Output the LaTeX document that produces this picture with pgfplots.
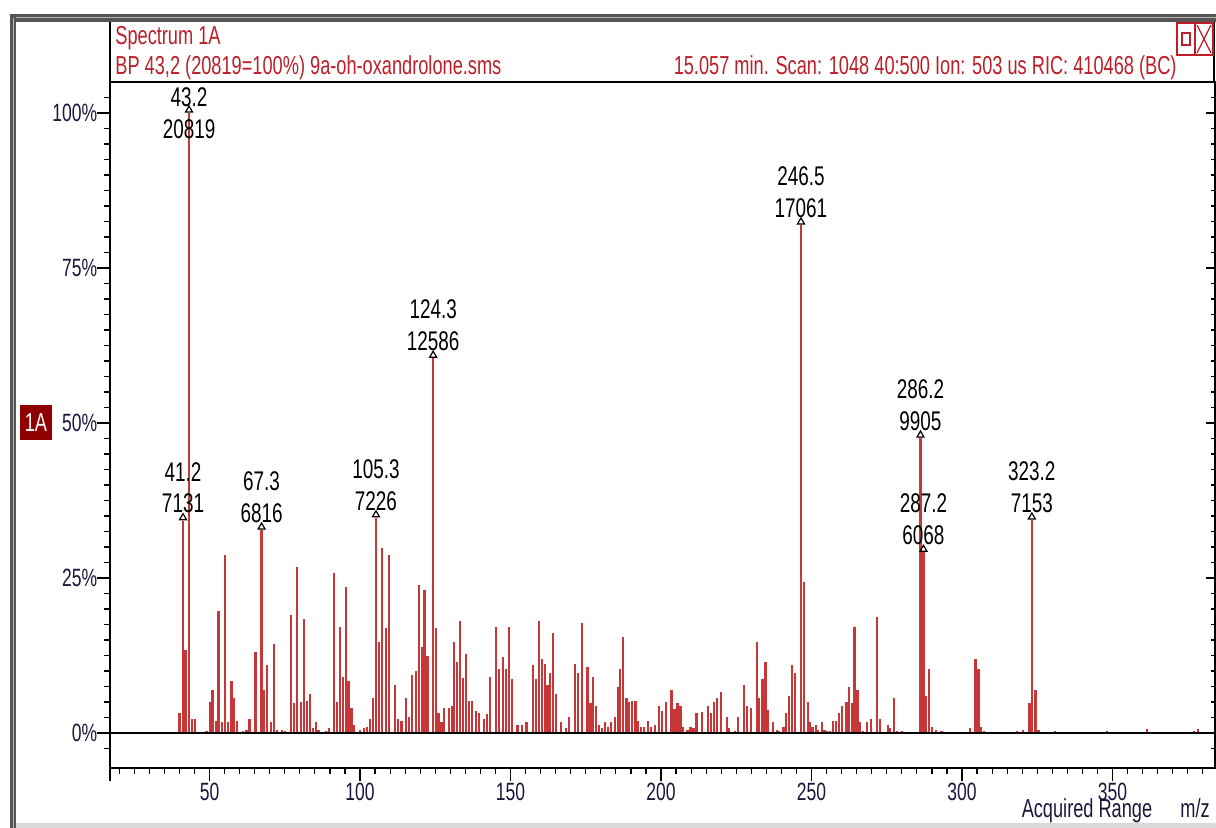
\documentclass[border=0pt]{standalone}
\usepackage{fontspec}
\setmainfont{Liberation Sans}[FakeStretch=0.7]
\usepackage{pgfplots}
\usepackage{pgfplotstable}
\pgfplotsset{compat=1.18}
\definecolor{specred}{RGB}{200,55,55}
\definecolor{hdrred}{RGB}{190,30,40}
\definecolor{ticknavy}{RGB}{25,25,60}
\definecolor{boxred}{RGB}{145,0,0}
\definecolor{framegray}{RGB}{85,85,85}
\newcommand\fhdr{\fontsize{13}{15}\selectfont}
\newcommand\ftick{\fontsize{12.5}{14}\selectfont}
\newcommand\fann{\fontsize{13.5}{15}\selectfont}

\pgfplotstableread{
mz h
40.0 3.3
41.2 34.25
42.0 13.4
43.2 100
44.3 2.3
45.3 2.3
49.0 0.3
50.2 5.0
51.0 6.9
52.2 2.0
53.0 19.6
54.2 1.7
55.2 28.7
56.2 1.7
57.3 8.4
58.2 5.6
59.2 2.0
61.0 0.3
62.3 0.5
63.3 2.3
65.3 13.1
67.3 32.74
68.1 6.9
69.2 11.0
70.3 1.7
71.3 14.4
72.4 0.5
74.0 0.5
75.0 0.3
77.1 19.0
78.1 4.8
79.1 26.7
80.4 5.0
81.3 18.4
82.4 5.2
83.3 6.3
84.3 0.8
85.3 1.7
86.2 0.5
86.9 0.2
88.7 0.3
89.6 0.8
91.3 25.8
92.3 5.0
93.3 17.1
94.3 9.1
95.3 23.6
96.2 8.4
97.2 4.1
98.1 1.3
100.0 0.5
101.4 0.8
102.3 1.0
103.3 2.3
104.3 5.7
105.3 34.71
106.2 14.6
107.2 29.9
108.6 16.9
109.5 28.7
111.6 7.8
112.5 2.3
113.8 2.0
115.3 5.7
116.2 2.6
117.2 9.4
118.5 10.0
119.5 23.9
120.5 13.8
121.4 23.0
122.4 12.5
124.3 60.45
125.2 16.9
126.1 3.2
127.1 1.7
128.0 4.0
129.6 4.0
130.5 4.4
131.3 14.6
132.3 11.5
133.3 18.1
134.2 8.8
135.2 12.8
136.2 5.2
137.1 5.2
138.5 3.5
139.4 3.2
141.3 2.2
142.3 3.0
143.3 9.1
145.2 17.1
146.2 10.3
147.6 12.2
148.5 10.3
149.5 17.1
150.5 8.7
152.3 1.3
153.8 1.3
155.3 1.7
157.4 11.0
158.4 8.7
159.4 18.1
160.4 11.9
161.4 11.2
162.3 7.8
163.2 9.7
164.2 16.2
165.1 6.3
166.9 1.7
168.4 0.8
169.4 2.6
171.3 11.2
172.3 9.7
173.8 17.7
175.6 10.6
176.6 4.8
177.5 9.1
178.5 4.4
179.4 1.3
180.4 0.8
181.4 1.7
182.4 1.0
183.4 1.7
184.6 2.6
185.6 7.5
186.5 10.3
187.5 15.5
188.5 5.7
189.4 5.0
190.4 5.2
191.5 5.2
192.4 2.0
193.3 1.0
194.3 1.0
195.6 2.0
196.6 1.0
198.0 1.3
199.3 4.4
200.3 3.5
201.7 5.0
203.5 6.9
204.5 3.8
205.5 4.8
206.5 4.4
207.4 1.0
208.8 0.5
209.8 1.0
210.8 0.8
211.8 3.2
213.7 3.4
215.5 4.4
216.5 3.2
217.5 5.0
218.5 5.7
219.8 6.6
221.8 2.6
222.7 0.8
224.6 0.3
225.6 2.6
227.5 7.8
228.5 4.4
229.8 4.0
231.8 14.6
232.6 5.7
233.7 8.7
234.7 11.5
235.6 3.7
237.1 1.7
238.4 0.5
239.3 0.3
240.7 1.0
241.6 3.2
242.6 5.9
243.5 11.0
244.5 9.7
246.5 81.95
247.4 24.3
248.7 5.0
249.4 1.7
250.3 1.0
251.5 1.3
252.0 0.5
253.5 1.7
254.3 0.5
255.2 0.3
256.1 0.3
257.2 2.0
258.1 2.0
259.1 3.2
260.1 4.4
261.6 5.0
262.5 7.5
263.5 4.8
264.3 17.1
265.3 6.9
266.2 1.7
267.1 0.3
268.3 1.7
269.7 2.3
271.7 18.7
272.7 2.3
275.3 1.3
276.2 0.8
277.4 5.7
278.3 0.3
280.0 0.3
286.2 47.58
287.2 29.15
288.0 5.9
289.0 10.3
290.0 1.0
291.3 0.5
293.2 0.3
302.7 0.8
304.5 11.9
305.5 10.3
306.3 1.0
307.2 0.3
318.3 0.3
320.2 0.5
322.4 4.8
323.2 34.36
324.4 6.9
325.4 0.5
330.8 0.3
348.1 0.3
361.4 0.6
377.2 0.3
378.5 0.6
}\spec

\begin{document}
\begin{tikzpicture}
\path[use as bounding box] (0pt,0pt) rectangle (608pt,-414pt);
\begin{scope}[x=0.5pt,y=-0.5pt]
\fill[white] (0,0) rectangle (1216,828);
% window frame
\fill[framegray] (10,14) rectangle (1216,22);
\draw[gray!55, line width=0.5pt] (14,18) -- (1216,18);
\fill[framegray] (10,14) rectangle (16,828);
\draw[gray!55, line width=0.5pt] (13,18) -- (13,828);
\fill[gray!30] (16,823) rectangle (1216,828);
% header box
\draw[black, line width=0.7pt] (110,22) -- (110,82);
\draw[black, line width=0.7pt] (1214,22) -- (1214,82);
\node[anchor=base west, text=hdrred, inner sep=0pt, font=\fhdr] at (115,45) {Spectrum 1A};
\node[anchor=base west, text=hdrred, inner sep=0pt, font=\fhdr] at (115,75) {BP 43,2 (20819=100\%) 9a-oh-oxandrolone.sms};
\node[anchor=base east, text=hdrred, inner sep=0pt, font=\fhdr] at (1177,75) {15.057 min. Scan: 1048 40:500 Ion: 503 us RIC: 410468 (BC)};
% window buttons
\draw[hdrred, line width=0.6pt] (1177,23) rectangle (1195,55);
\draw[hdrred, line width=0.6pt] (1195,23) rectangle (1213,55);
\draw[hdrred, line width=0.8pt] (1182,33) rectangle (1190,45);
\draw[hdrred, line width=0.6pt] (1197,25) -- (1211,53) (1211,25) -- (1197,53);
% 1A box
\fill[boxred] (20,405) rectangle (52,440);
\node[text=white, inner sep=0pt, font=\fhdr] at (36,423) {1A};
% bottom labels
\node[anchor=base, text=ticknavy, inner sep=0pt, font=\fhdr] at (1087,817) {Acquired Range};
\node[anchor=base, text=ticknavy, inner sep=0pt, font=\fhdr] at (1195,817) {m/z};
\end{scope}

% right axis ticks
\begin{axis}[
  at={(55pt,-384pt)}, anchor=south west,
  scale only axis, width=552.5pt, height=343pt,
  xmin=16.94, xmax=384.05, ymin=-5.645, ymax=105,
  axis line style={draw=none},
  xtick=\empty,
  ytick={0,25,50,75,100}, yticklabels={},
  minor ytick={-2.5,0,...,102.5},
  ytick pos=right, tick align=inside,
  major tick length=4.5pt, minor tick length=2pt,
  tick style={black, line width=0.6pt},
]
\end{axis}

\begin{axis}[
  at={(55pt,-384pt)}, anchor=south west,
  scale only axis, width=552.5pt, height=343pt,
  xmin=16.94, xmax=384.05, ymin=-5.645, ymax=105,
  axis line style={line width=0.7pt, black},
  xtick={50,100,...,350},
  minor xtick={20,25,...,380},
  extra x ticks={16.94}, extra x tick labels={},
  ytick={0,25,50,75,100},
  yticklabels={0\%,25\%,50\%,75\%,100\%},
  minor ytick={-2.5,0,...,102.5},
  xtick pos=bottom, ytick pos=left, tick align=outside,
  major tick length=6.25pt, minor tick length=2.75pt,
  tick style={black, line width=0.6pt},
  /pgf/number format/assume math mode=true,
  ticklabel style={font=\ftick, text=ticknavy},
  xticklabel style={inner sep=0pt, anchor=north, yshift=-1pt},
  yticklabel style={inner sep=0pt, anchor=east, xshift=0pt},
  clip=true,
]
\addplot[ycomb, specred, line width=1.1pt, mark=none] table {\spec};
\draw[black, line width=1pt] (axis cs:16.94,0) -- (axis cs:384.05,0);
\addplot[only marks, mark=triangle, mark size=2pt, black, mark options={line width=0.6pt, yshift=1.5pt}] coordinates {
(41.2,34.25) (43.2,100) (67.3,32.74) (105.3,34.71) (124.3,60.45) (246.5,81.95) (286.2,47.58) (287.2,29.15) (323.2,34.36)};
\begin{scope}[every node/.style={font=\fann, inner sep=0pt, text=black}]
\node[yshift=8pt] at (axis cs:43.2,100) {43.2};
\node[yshift=-8pt] at (axis cs:43.2,100) {20819};
\node[yshift=24.5pt] at (axis cs:41.2,34.25) {41.2};
\node[yshift=8.5pt] at (axis cs:41.2,34.25) {7131};
\node[yshift=24.5pt] at (axis cs:67.3,32.74) {67.3};
\node[yshift=8.5pt] at (axis cs:67.3,32.74) {6816};
\node[yshift=24.5pt] at (axis cs:105.3,34.71) {105.3};
\node[yshift=8.5pt] at (axis cs:105.3,34.71) {7226};
\node[yshift=24.5pt] at (axis cs:124.3,60.45) {124.3};
\node[yshift=8.5pt] at (axis cs:124.3,60.45) {12586};
\node[yshift=24.5pt] at (axis cs:246.5,81.95) {246.5};
\node[yshift=8.5pt] at (axis cs:246.5,81.95) {17061};
\node[yshift=24.5pt] at (axis cs:286.2,47.58) {286.2};
\node[yshift=8.5pt] at (axis cs:286.2,47.58) {9905};
\node[yshift=24.5pt] at (axis cs:287.2,29.15) {287.2};
\node[yshift=8.5pt] at (axis cs:287.2,29.15) {6068};
\node[yshift=24.5pt] at (axis cs:323.2,34.36) {323.2};
\node[yshift=8.5pt] at (axis cs:323.2,34.36) {7153};
\end{scope}
\end{axis}
\end{tikzpicture}
\end{document}
